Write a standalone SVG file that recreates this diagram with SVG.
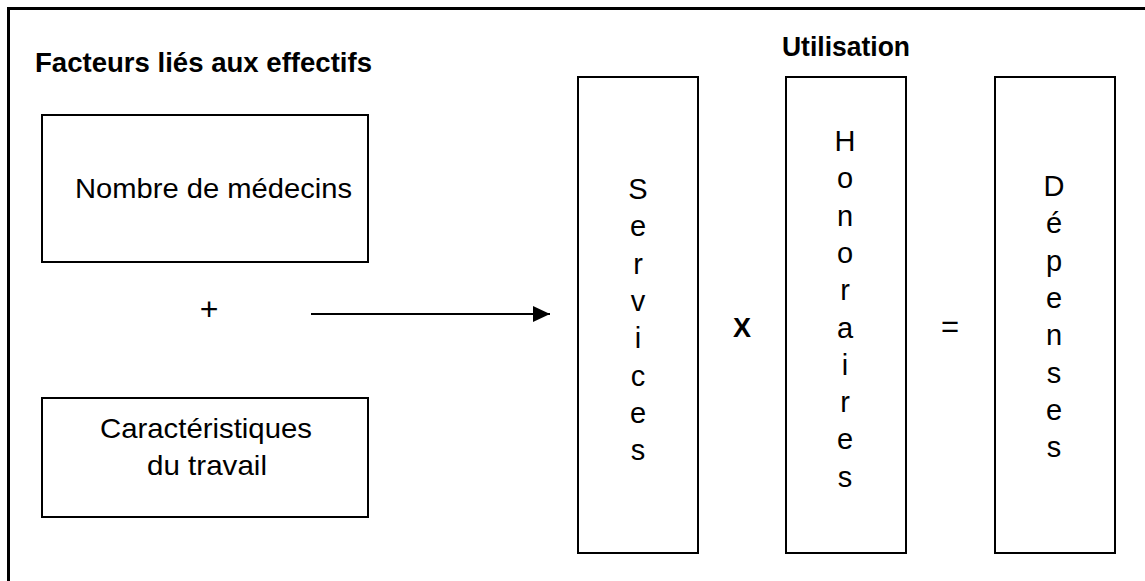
<svg xmlns="http://www.w3.org/2000/svg" width="1145" height="581" viewBox="0 0 1145 581">
<defs>
<style>
.box{fill:#fff;stroke:#000;stroke-width:2}
.t{font-family:"Liberation Sans",Arial,sans-serif;font-size:28px;fill:#000}
.b{font-family:"Liberation Sans",Arial,sans-serif;font-size:27px;font-weight:bold;fill:#000}
.v{font-family:"Liberation Sans",Arial,sans-serif;font-size:29px;fill:#000;text-anchor:middle}
</style>
<marker id="ah" markerWidth="17" markerHeight="16" refX="17" refY="8" orient="auto" markerUnits="userSpaceOnUse">
<path d="M0,0 L17,8 L0,16 Z" fill="#000"/>
</marker>
</defs>
<rect width="1145" height="581" fill="#fff"/>
<path d="M8.5,581 V8.5 H1145" fill="none" stroke="#000" stroke-width="3"/>
<text class="b" x="35" y="72" textLength="337" lengthAdjust="spacingAndGlyphs">Facteurs liés aux effectifs</text>
<text class="b" x="782" y="56" textLength="128" lengthAdjust="spacingAndGlyphs">Utilisation</text>
<g id="nombre">
<rect class="box" x="42" y="115" width="326" height="147"/>
<text class="t" x="75" y="198" textLength="277" lengthAdjust="spacingAndGlyphs">Nombre de médecins</text>
</g>
<g id="caracteristiques">
<rect class="box" x="42" y="398" width="326" height="119"/>
<text class="t" x="100" y="438" textLength="212" lengthAdjust="spacingAndGlyphs">Caractéristiques</text>
<text class="t" x="147" y="475" textLength="120" lengthAdjust="spacingAndGlyphs">du travail</text>
</g>
<text class="t" x="209" y="320" text-anchor="middle" style="font-size:32px">+</text>
<g id="connectors">
<line x1="311" y1="314" x2="550" y2="314" stroke="#000" stroke-width="2" marker-end="url(#ah)"/>
</g>
<g id="services">
<rect class="box" x="578" y="77" width="120" height="476"/>
<text class="v" y="199"><tspan x="638">S</tspan><tspan x="638" dy="37.3">e</tspan><tspan x="638" dy="37.3">r</tspan><tspan x="638" dy="37.3">v</tspan><tspan x="638" dy="37.3">i</tspan><tspan x="638" dy="37.3">c</tspan><tspan x="638" dy="37.3">e</tspan><tspan x="638" dy="37.3">s</tspan></text>
</g>
<text class="b" x="742" y="337" text-anchor="middle" style="font-size:27px">X</text>
<g id="honoraires">
<rect class="box" x="786" y="77" width="120" height="476"/>
<text class="v" y="151"><tspan x="845">H</tspan><tspan x="845" dy="37.3">o</tspan><tspan x="845" dy="37.3">n</tspan><tspan x="845" dy="37.3">o</tspan><tspan x="845" dy="37.3">r</tspan><tspan x="845" dy="37.3">a</tspan><tspan x="845" dy="37.3">i</tspan><tspan x="845" dy="37.3">r</tspan><tspan x="845" dy="37.3">e</tspan><tspan x="845" dy="37.3">s</tspan></text>
</g>
<text class="t" x="950" y="337" text-anchor="middle" style="font-size:31px">=</text>
<g id="depenses">
<rect class="box" x="995" y="77" width="120" height="476"/>
<text class="v" y="196"><tspan x="1054">D</tspan><tspan x="1054" dy="37.3">é</tspan><tspan x="1054" dy="37.3">p</tspan><tspan x="1054" dy="37.3">e</tspan><tspan x="1054" dy="37.3">n</tspan><tspan x="1054" dy="37.3">s</tspan><tspan x="1054" dy="37.3">e</tspan><tspan x="1054" dy="37.3">s</tspan></text>
</g>
</svg>
